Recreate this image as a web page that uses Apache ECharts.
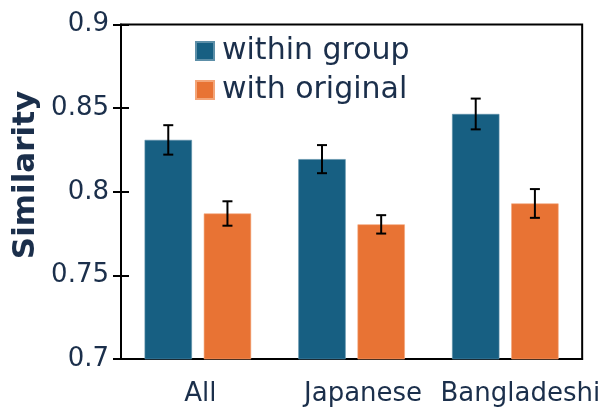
<!DOCTYPE html>
<html>
<head>
<meta charset="utf-8">
<script src="https://cdn.jsdelivr.net/npm/echarts@6/dist/echarts.min.js"></script>
<style>html,body{margin:0;padding:0;background:#fff;}#c{width:603px;height:407px;}</style>
</head>
<body>
<div id="c"></div>
<script>
var categories = ['All', 'Japanese', 'Bangladeshi'];
var labelShift = [5, 23, 30];
var withinGroup = [0.831, 0.8195, 0.8465];
var withOriginal = [0.787, 0.7805, 0.793];
var withinGroupErr = [0.0088, 0.0084, 0.0092];
var withOriginalErr = [0.0073, 0.0055, 0.0086];
var yTicks = [0.7, 0.75, 0.8, 0.85, 0.9];

var FONT = 'DejaVu Sans';
var TXT = '#1b2f4b';
var BLUE = '#175f82';
var ORANGE = '#e87334';
var CAT_GAP = 0.307, BAR_GAP = 0.25;

function errItem(sign, errs) {
  return function (params, api) {
    var i = api.value(0);
    var v = api.value(1);
    var e = api.value(2);
    var band = api.size([1, 0])[0];
    var w = band * (1 - CAT_GAP) / (2 + BAR_GAP);
    var off = sign * (w + w * BAR_GAP) / 2;
    var top = api.coord([i, v + e]);
    var bot = api.coord([i, v - e]);
    var x = top[0] + off;
    var cap = 5;
    var st = {stroke: '#000', lineWidth: 2};
    return {type: 'group', children: [
      {type: 'line', shape: {x1: x, y1: top[1], x2: x, y2: bot[1]}, style: st},
      {type: 'line', shape: {x1: x - cap, y1: top[1], x2: x + cap, y2: top[1]}, style: st},
      {type: 'line', shape: {x1: x - cap, y1: bot[1], x2: x + cap, y2: bot[1]}, style: st}
    ]};
  };
}

var chart = echarts.init(document.getElementById('c'));
var rich = {};
categories.forEach(function (c, i) {
  rich['l' + i] = {fontFamily: FONT, fontSize: 26, color: TXT, padding: [0, 0, 0, labelShift[i]]};
});

chart.setOption({
  animation: false,
  textStyle: {fontFamily: FONT},
  grid: {left: 121, right: 20, top: 24.5, bottom: 47.5, show: true, borderColor: '#000', borderWidth: 2, backgroundColor: 'transparent'},
  legend: {
    orient: 'vertical', left: 195, top: 36, padding: 0, itemWidth: 18, itemHeight: 18, itemGap: 9,
    icon: 'rect',
    textStyle: {fontFamily: FONT, fontSize: 30, color: TXT, lineHeight: 30, padding: [0, 0, 0, 3]},
    data: ['within group', 'with original']
  },
  graphic: [{
    type: 'text', x: 26, y: 175, rotation: Math.PI / 2,
    style: {text: 'Similarity', font: 'bold 31px "DejaVu Sans"', fill: TXT, textAlign: 'center', textVerticalAlign: 'middle'}
  }],
  xAxis: {
    type: 'category', data: categories,
    axisLine: {lineStyle: {color: '#000', width: 2}},
    axisTick: {show: false},
    axisLabel: {
      margin: 22,
      formatter: function (v, i) { return '{l' + i + '|' + v + '}'; },
      rich: rich
    }
  },
  yAxis: [{
    type: 'value', min: 0.7, max: 0.9, interval: 0.05,
    axisLine: {show: true, lineStyle: {color: '#000', width: 2}},
    axisTick: {show: true, length: 8, lineStyle: {color: '#000', width: 2}},
    splitLine: {show: false},
    axisLabel: {
      margin: 12, fontFamily: FONT, fontSize: 26, color: TXT,
      formatter: function (v) {
        var t = yTicks.filter(function (k) { return Math.abs(k - v) < 1e-9; })[0];
        return t === undefined ? '' : String(t);
      }
    }
  }, {
    type: 'value', min: 0.7, max: 0.9, interval: 0.05, position: 'left',
    axisLine: {show: false},
    axisTick: {show: true, inside: true, length: 8, lineStyle: {color: '#000', width: 2}},
    axisLabel: {show: false},
    splitLine: {show: false}
  }],
  series: [{
    name: 'within group', type: 'bar', data: withinGroup,
    barCategoryGap: (CAT_GAP * 100) + '%', barGap: (BAR_GAP * 100) + '%',
    itemStyle: {color: BLUE, borderColor: '#5d8fa8', borderWidth: 0.6}
  }, {
    name: 'with original', type: 'bar', data: withOriginal,
    barCategoryGap: (CAT_GAP * 100) + '%', barGap: (BAR_GAP * 100) + '%',
    itemStyle: {color: ORANGE, borderColor: '#f3a578', borderWidth: 0.6}
  }, {
    type: 'custom', renderItem: errItem(-1), z: 10,
    data: withinGroup.map(function (v, i) { return [i, v, withinGroupErr[i]]; })
  }, {
    type: 'custom', renderItem: errItem(1), z: 10,
    data: withOriginal.map(function (v, i) { return [i, v, withOriginalErr[i]]; })
  }]
});
</script>
</body>
</html>
